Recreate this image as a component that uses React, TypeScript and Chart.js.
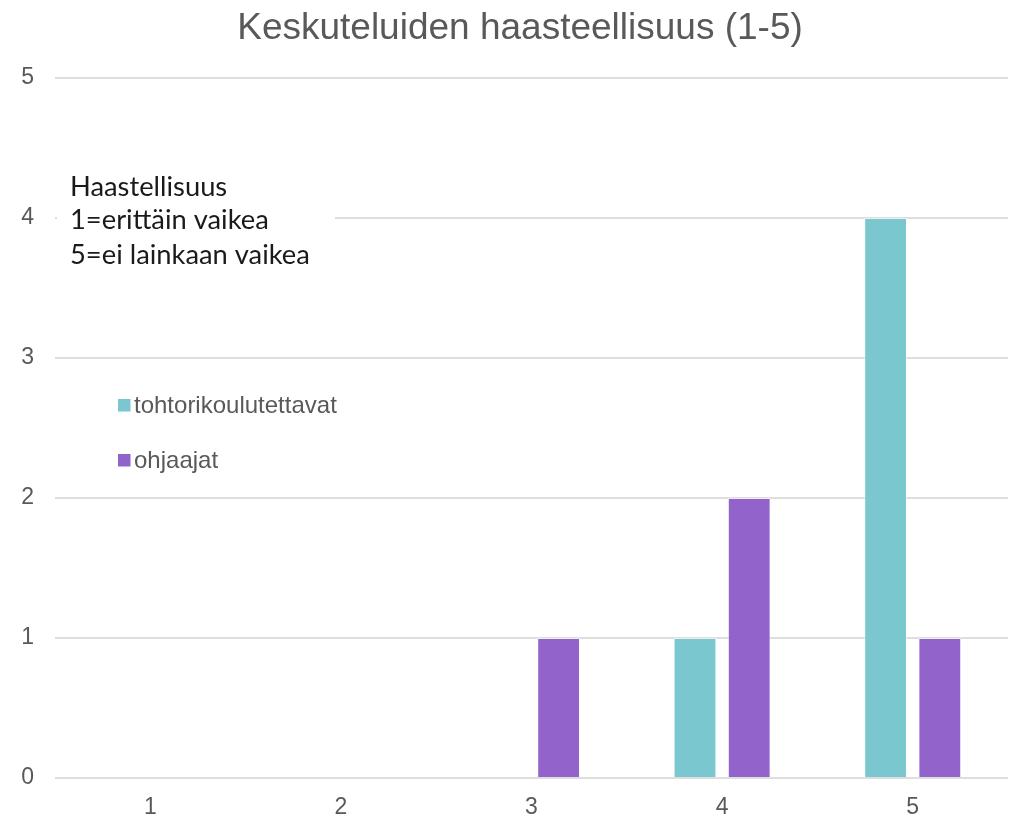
import React, { useEffect, useRef } from "react";
import { Chart, registerables } from "chart.js";

Chart.register(...registerables);

const categories = ["1", "2", "3", "4", "5"];
const seriesNames = ["tohtorikoulutettavat", "ohjaajat"];
const doctoralValues = [0, 0, 0, 1, 4];
const supervisorValues = [0, 0, 1, 2, 1];
const yTicks = [0, 1, 2, 3, 4, 5];
const titleText = "Keskuteluiden haasteellisuus (1-5)";
const noteLines = ["Haastellisuus", "1=erittäin vaikea", "5=ei lainkaan vaikea"];

const TEAL = "#7AC7D0";
const PURPLE = "#9264CB";
const GRAY = "#595959";
const ARIAL = "'Liberation Sans', Arial, sans-serif";

const overlayPlugin = {
  id: "overlay",
  beforeDatasetsDraw(chart: any) {
    const ctx = chart.ctx;
    ctx.save();
    ctx.fillStyle = "#ffffff";
    ctx.fillRect(57, 165, 278, 110);
    // note text
    ctx.fillStyle = "#1a1a1a";
    ctx.textBaseline = "middle";
    ctx.textAlign = "left";
    ctx.font = "100px Lato";
    const w = ctx.measureText(noteLines[2]).width;
    const size = (100 * 240) / w;
    ctx.font = `${size}px Lato`;
    const ys = [187, 220, 255];
    noteLines.forEach((t, i) => ctx.fillText(t, 70, ys[i]));
    ctx.restore();
  },
  afterDraw(chart: any) {
    const ctx = chart.ctx;
    ctx.save();
    // title
    ctx.fillStyle = GRAY;
    ctx.font = `37px ${ARIAL}`;
    ctx.textAlign = "center";
    ctx.textBaseline = "middle";
    ctx.fillText(titleText, 520, 29);
    // legend
    const ys = [405, 460];
    chart.data.datasets.forEach((ds: any, i: number) => {
      ctx.fillStyle = ds.backgroundColor;
      ctx.fillRect(118, ys[i] - 6, 12.5, 12.5);
      ctx.fillStyle = GRAY;
      ctx.font = `24px ${ARIAL}`;
      ctx.textAlign = "left";
      ctx.textBaseline = "middle";
      ctx.fillText(ds.label, 134, ys[i] + 1);
    });
    ctx.restore();
  },
};

export default function App() {
  const ref = useRef<HTMLCanvasElement>(null);
  useEffect(() => {
    document.body.style.margin = "0";
    const chart = new Chart(ref.current!, {
      type: "bar",
      data: {
        labels: categories,
        datasets: [
          {
            label: seriesNames[0],
            data: doctoralValues,
            backgroundColor: TEAL,
            borderColor: "rgba(255,255,255,0.45)",
            borderWidth: 1,
            barPercentage: 0.79,
            categoryPercentage: 0.569,
          },
          {
            label: seriesNames[1],
            data: supervisorValues,
            backgroundColor: PURPLE,
            borderColor: "rgba(255,255,255,0.45)",
            borderWidth: 1,
            barPercentage: 0.79,
            categoryPercentage: 0.569,
          },
        ],
      },
      options: {
        responsive: false,
        animation: false,
        layout: { padding: { top: 78, right: 3, left: 0, bottom: 0 } },
        plugins: { legend: { display: false }, title: { display: false }, tooltip: { enabled: false } },
        scales: {
          x: {
            grid: { display: false, drawTicks: false },
            border: { display: false },
            ticks: { color: GRAY, font: { family: ARIAL, size: 23 }, padding: 16 },
            afterFit: (s: any) => {
              s.height = 40;
            },
          },
          y: {
            min: 0,
            max: 5,
            afterBuildTicks: (s: any) => {
              s.ticks = yTicks.map((v) => ({ value: v }));
            },
            grid: { color: "#dedede", lineWidth: 2, drawTicks: false },
            border: { display: false },
            ticks: { color: GRAY, font: { family: ARIAL, size: 23 }, padding: 21 },
            afterFit: (s: any) => {
              s.width = 55;
            },
          },
        },
      },
      plugins: [overlayPlugin],
    });
    return () => chart.destroy();
  }, []);
  return <canvas ref={ref} width={1011} height={818} />;
}
